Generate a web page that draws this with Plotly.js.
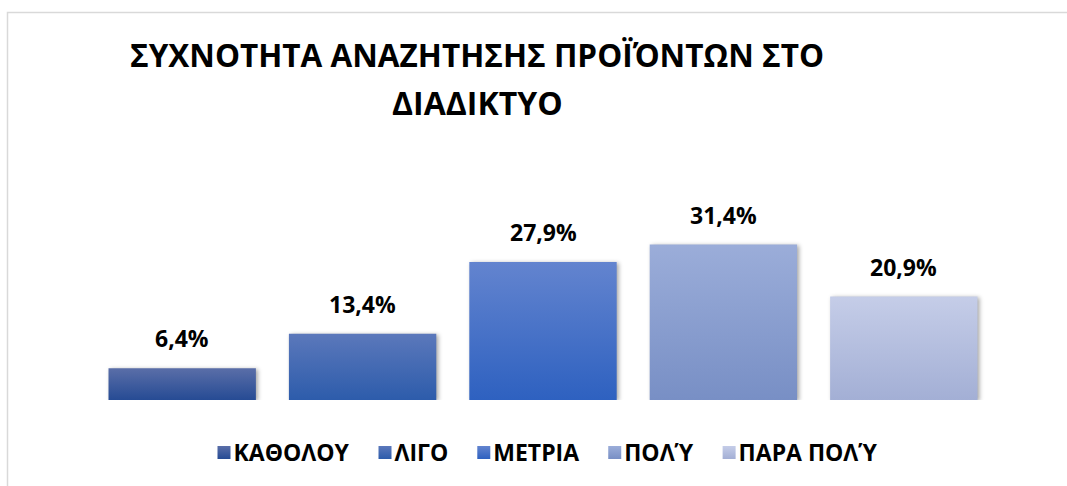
<!DOCTYPE html>
<html>
<head>
<meta charset="utf-8">
<script src="https://cdn.plot.ly/plotly-3.0.1.min.js"></script>
<style>
  html, body { margin: 0; padding: 0; background: #ffffff; }
  #chart { width: 1067px; height: 486px; }
</style>
</head>
<body>
<div id="chart"></div>
<script>
// ---- data ----
const categories = ['ΚΑΘΟΛΟΥ', 'ΛΙΓΟ', 'ΜΕΤΡΙΑ', 'ΠΟΛΎ', 'ΠΑΡΑ ΠΟΛΎ'];
const values = [6.4, 13.4, 27.9, 31.4, 20.9];
const valueLabels = ['6,4%', '13,4%', '27,9%', '31,4%', '20,9%'];
const titleLine1 = 'ΣΥΧΝΟΤΗΤΑ ΑΝΑΖΗΤΗΣΗΣ ΠΡΟΪΌΝΤΩΝ ΣΤΟ';
const titleLine2 = 'ΔΙΑΔΙΚΤΥΟ';

// ---- styles ----
const midColors = ['#2f559c', '#3d66b2', '#3f6fc7', '#8a9ecf', '#b5bfdf'];
const gradTop = ['#5a6ea8', '#5b78bb', '#6384cf', '#9badd9', '#c5cde8'];
const gradBot = ['#264b94', '#2d5cab', '#2e61c0', '#788fc5', '#a3afd5'];
const FONT = '"Open Sans", "Noto Sans", sans-serif';

const W = 1067, H = 486;
const M = { l: 92, r: 73, t: 202, b: 86 };
const plotW = W - M.l - M.r, plotH = H - M.t - M.b;
const YMAX = 40;
const px2x = p => (p - M.l) / plotW;
const px2y = p => (H - M.b - p) / plotH;

const traces = categories.map((c, i) => ({
  type: 'bar',
  x: [c],
  y: [values[i]],
  name: c,
  width: 0.817,
  marker: { color: midColors[i], line: { width: 0 } },
  hoverinfo: 'skip'
}));

const annotations = categories.map((c, i) => ({
  x: c, y: values[i], xref: 'x', yref: 'y',
  text: '<b>' + valueLabels[i] + '</b>',
  showarrow: false, yanchor: 'bottom', yshift: 12,
  font: { family: FONT, size: 23, color: '#000000' }
}));
annotations.push({
  x: px2x(477), y: px2y(102), xref: 'paper', yref: 'paper',
  text: '<b>' + titleLine2 + '</b>', showarrow: false,
  xanchor: 'center', yanchor: 'middle',
  font: { family: FONT, size: 32, color: '#000000' }
});

const layout = {
  width: W, height: H,
  margin: M,
  paper_bgcolor: '#ffffff', plot_bgcolor: '#ffffff',
  barmode: 'overlay',
  title: {
    text: '<b>' + titleLine1 + '</b>',
    x: 477 / W, xref: 'container', xanchor: 'center',
    y: 1 - 56 / H, yref: 'container', yanchor: 'middle',
    font: { family: FONT, size: 31.5, color: '#000000' }
  },
  xaxis: {
    range: [-0.5, categories.length - 0.5],
    showticklabels: false, showgrid: false, zeroline: false, showline: false, ticks: ''
  },
  yaxis: {
    range: [0, YMAX], visible: false, showgrid: false, zeroline: false
  },
  showlegend: true,
  legend: {
    orientation: 'h', x: px2x(538), xanchor: 'center', xref: 'paper',
    y: px2y(452), yanchor: 'middle', yref: 'paper',
    font: { family: FONT, size: 23, color: '#000000', weight: 'bold' },
    itemwidth: 30, traceorder: 'normal', bgcolor: 'rgba(0,0,0,0)'
  },
  annotations: annotations,
  shapes: [{
    type: 'rect', xref: 'paper', yref: 'paper',
    x0: px2x(7.5), x1: px2x(1070), y0: px2y(490), y1: px2y(12.5),
    line: { color: '#d9d9d9', width: 1.5 }, fillcolor: 'rgba(0,0,0,0)', layer: 'below'
  }]
};

Plotly.newPlot('chart', traces, layout, { displayModeBar: false, staticPlot: true }).then(gd => {
  const svg = gd.querySelector('svg.main-svg');
  const NS = 'http://www.w3.org/2000/svg';
  let defs = svg.querySelector('defs');
  if (!defs) { defs = document.createElementNS(NS, 'defs'); svg.insertBefore(defs, svg.firstChild); }
  categories.forEach((c, i) => {
    const g = document.createElementNS(NS, 'linearGradient');
    g.setAttribute('id', 'bargrad' + i);
    g.setAttribute('x1', '0'); g.setAttribute('y1', '0');
    g.setAttribute('x2', '0'); g.setAttribute('y2', '1');
    [[0, gradTop[i]], [1, gradBot[i]]].forEach(([o, col]) => {
      const s = document.createElementNS(NS, 'stop');
      s.setAttribute('offset', o); s.setAttribute('stop-color', col);
      g.appendChild(s);
    });
    defs.appendChild(g);
  });
  gd.querySelectorAll('.barlayer .trace').forEach((t, i) => {
    t.querySelectorAll('path').forEach(p => {
      p.style.fill = 'url(#bargrad' + i + ')';
      p.style.filter = 'drop-shadow(2px 1px 2px rgba(0,0,0,0.35))';
    });
  });
  gd.querySelectorAll('.legend .traces').forEach((t, i) => {
    t.querySelectorAll('.legendpoints path').forEach(p => {
      p.style.fill = 'url(#bargrad' + i + ')';
      p.setAttribute('d', 'M17,7H4V-6H17Z');
    });
  });
});
</script>
</body>
</html>
